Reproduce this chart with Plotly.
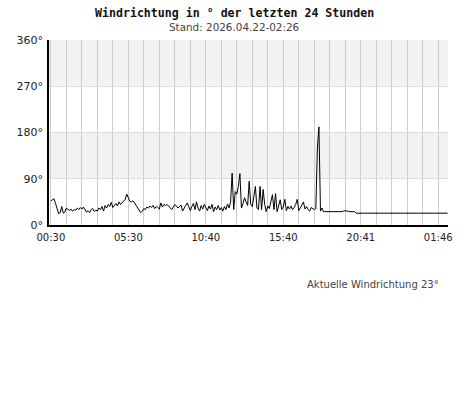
import plotly.graph_objects as go

# Wind direction samples (degrees), 6-minute steps starting at 00:30 (hour offset 0)
dir_early = [
    47, 49, 51, 42, 30, 22, 24, 36, 23, 25,
    33, 30, 28, 31, 27, 30, 29, 33, 30, 34,
    31, 35, 29, 25, 28, 24, 30, 32, 26, 29,
    27, 33, 30, 36, 27, 38, 33, 40, 36, 44,
    34, 38, 42, 37, 45, 40, 43, 48, 50, 60,
    52, 46, 45, 47, 43, 38, 33, 30, 24, 27,
    32, 30, 35, 33, 37, 34, 38, 32, 36, 34,
    31, 43, 35, 40, 38, 40, 36, 32, 30, 35,
    40, 37, 33, 36, 39, 27, 34, 38, 43, 35,
    28, 36, 42, 30, 45, 33, 27, 38, 31, 40,
]
dir_mid = [
    33, 28, 37, 31, 40, 26, 35, 30, 38, 29,
    34, 27, 36, 30, 41, 33, 45, 101, 30, 65,
    60, 75, 100, 33, 42, 53, 45, 38, 85, 40,
    36, 58, 75, 33, 30, 75, 30, 69, 40, 26,
    37, 32, 45, 59, 30, 61, 26, 38, 49, 30,
    35, 50, 28, 36, 31, 37, 30, 34, 40, 50,
    28, 33, 38, 45, 31, 36, 30, 27, 34, 31,
    30, 32, 150, 191, 27, 33, 26,
]
step_hours = 0.1
hours_noisy = [round(i * step_hours, 2) for i in range(len(dir_early) + len(dir_mid))]
dir_noisy = dir_early + dir_mid

# Calm tail after the spike
hours_tail = [18.0, 18.8, 18.9, 19.1, 19.2, 19.6, 19.7, 22.0, 25.6]
dir_tail = [26, 26, 27.5, 27.5, 26, 26, 23, 23, 23]

hours = hours_noisy + hours_tail
direction = dir_noisy + dir_tail

tick_hours = [0, 5, 10, 15, 20, 25]
tick_labels = ["00:30", "05:30", "10:40", "15:40", "20:41", "01:46"]
y_ticks = [0, 90, 180, 270, 360]
y_labels = ["0°", "90°", "180°", "270°", "360°"]
current_dir = 23

grid_vals = list(range(0, 26))
grid_text = [tick_labels[tick_hours.index(h)] if h in tick_hours else "" for h in grid_vals]

fig = go.Figure()
fig.add_trace(go.Scatter(x=hours, y=direction, mode="lines",
                         line=dict(color="#000000", width=1), hoverinfo="skip",
                         showlegend=False))

for lo, hi in [(90, 180), (270, 360)]:
    fig.add_shape(type="rect", xref="paper", yref="y", x0=0, x1=1, y0=lo, y1=hi,
                  fillcolor="#f2f2f2", line=dict(width=0), layer="below")

fig.update_layout(
    width=468, height=415,
    margin=dict(l=49, r=20, t=40, b=190),
    paper_bgcolor="white", plot_bgcolor="white",
    font=dict(family="DejaVu Sans", color="#222222"),
    xaxis=dict(range=[-0.12, 25.63], tickvals=grid_vals, ticktext=grid_text,
               showgrid=True, gridcolor="#cccccc", gridwidth=1,
               showline=True, linecolor="#000000", linewidth=1.5,
               zeroline=False, ticks="", ticklabelstandoff=2,
               tickfont=dict(size=10, color="#222222"), fixedrange=True),
    yaxis=dict(range=[0, 360], tickvals=y_ticks, ticktext=y_labels,
               showgrid=True, gridcolor="#dddddd", gridwidth=1,
               showline=True, linecolor="#000000", linewidth=1.5,
               zeroline=False, ticks="", ticklabelstandoff=2,
               tickfont=dict(size=11, color="#222222"), fixedrange=True),
    annotations=[
        dict(text="<b>Windrichtung in ° der letzten 24 Stunden</b>", xref="paper", yref="paper",
             x=0.464, y=1.146, xanchor="center", yanchor="middle", showarrow=False,
             font=dict(family="DejaVu Sans Mono", size=11.6, color="#111111")),
        dict(text="Stand: 2026.04.22-02:26", xref="paper", yref="paper",
             x=0.464, y=1.070, xanchor="center", yanchor="middle", showarrow=False,
             font=dict(family="DejaVu Sans", size=10.4, color="#444444")),
        dict(text=f"Aktuelle Windrichtung {current_dir}°", xref="paper", yref="paper",
             x=0.983, y=-0.322, xanchor="right", yanchor="middle", showarrow=False,
             font=dict(family="DejaVu Sans", size=10, color="#444444")),
    ],
)

fig.write_html("out.html", config={"displayModeBar": False},
               post_script="document.body.style.margin='0';")
